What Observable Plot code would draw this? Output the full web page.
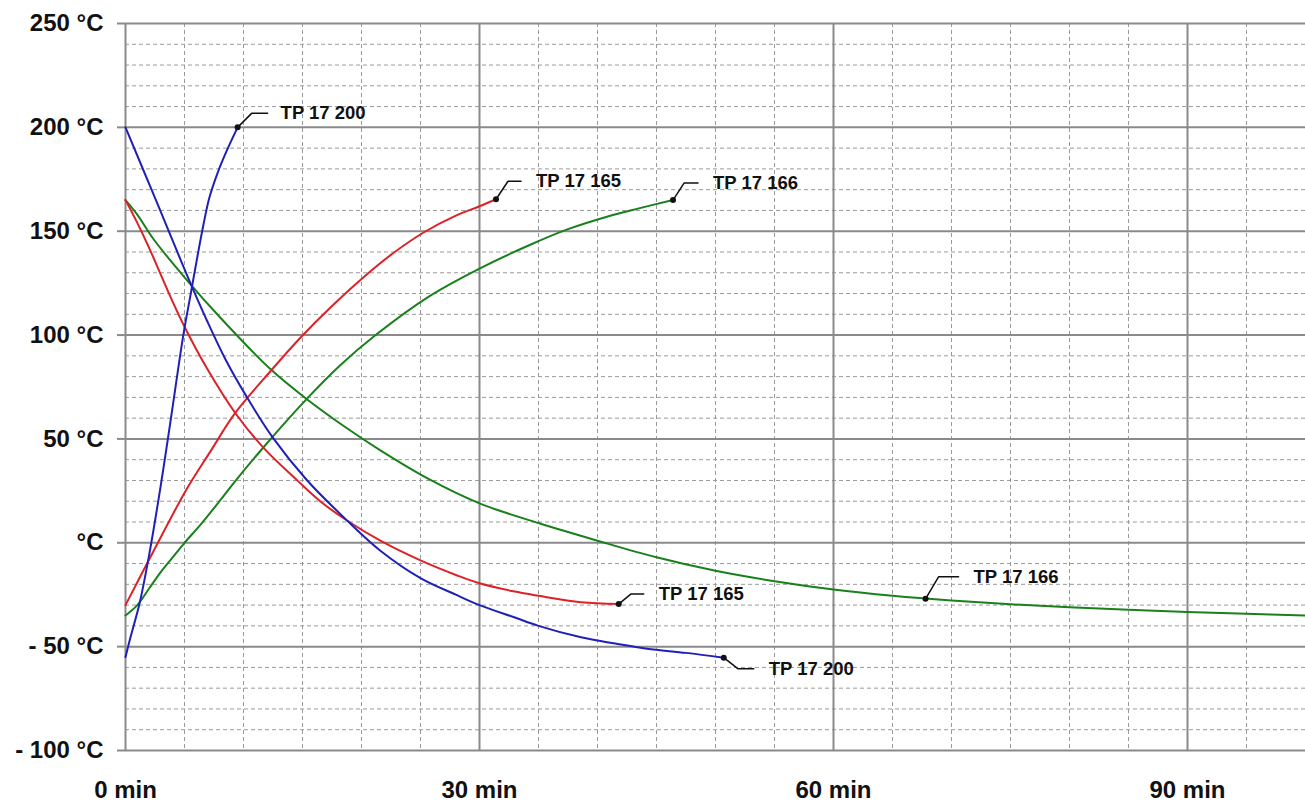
<!DOCTYPE html>
<html><head><meta charset="utf-8">
<script src="https://cdn.jsdelivr.net/npm/d3@7"></script>
<script src="https://cdn.jsdelivr.net/npm/@observablehq/plot@0.6"></script>
<style>
html,body{margin:0;padding:0;background:#fff;}
#chart{width:1305px;height:803px;overflow:hidden;}
svg{display:block;}
</style></head><body><div id="chart"></div>
<script>
// ---- data ----
const blueHeatTime = [0, 0.4, 1.2, 2, 3, 3.8, 4.9, 5.5, 6.1, 6.6, 7.1, 7.8, 8.6, 9.5];
const blueHeatTemp = [-55, -46, -29, -6, 28, 58, 100, 119, 138, 153, 166, 178, 189, 200];
const blueCoolTime = [0, 2.5, 5.5, 6.9, 8.5, 10.3, 12.5, 15.4, 18.8, 21.6, 25, 28, 30, 33, 35, 38.6, 41.5, 44.2, 47.5, 50.7];
const blueCoolTemp = [200, 166, 125, 107, 88, 70, 50.5, 30, 10.6, -3.8, -17, -25, -30, -36, -40, -45.5, -48.5, -51, -53, -55.3];
const redHeatTime = [0, 2.1, 5.2, 7.2, 9.3, 12.3, 14.8, 17.5, 20.2, 22.7, 25.3, 28, 30, 31.4];
const redHeatTemp = [-30, -7, 26, 44, 62.5, 82.7, 98.6, 114, 128, 139.5, 149.5, 157.5, 162, 165.4];
const redCoolTime = [0, 1, 2, 3, 4, 5, 6.9, 9.3, 11.7, 14.6, 16.5, 18.8, 21.6, 25, 28, 30, 33, 35, 38.6, 41.8];
const redCoolTemp = [165, 154, 142, 129, 116, 104, 84, 62.5, 45.7, 29.8, 20, 10.6, 1, -8.5, -15.5, -19.5, -23.5, -25.5, -28.6, -29.5];
const greenHeatTime = [0, 1, 2, 3, 4, 5, 6.4, 8.1, 9.2, 11.7, 15.4, 18.2, 21.2, 25.7, 30, 34.3, 37.5, 40.8, 43.5, 46.4];
const greenHeatTemp = [-35, -30, -22, -14, -7, 0, 9, 21, 29, 46, 69.5, 85.5, 100, 118.5, 132, 143.5, 151, 157, 161, 165];
const greenCoolTime = [0, 1, 2.4, 5.2, 8.1, 12.3, 15.4, 18.8, 21.6, 25.6, 30, 35, 40, 45, 50, 55, 60, 65, 70, 75, 80, 85, 90, 95, 100];
const greenCoolTemp = [165, 158, 146, 126.5, 108, 83.5, 69, 55, 44.5, 31, 19, 9.5, 1, -7, -13.5, -18.5, -22.5, -25.5, -27.8, -29.6, -31, -32.2, -33.3, -34.2, -35];

const labelText = ["TP 17 200", "TP 17 165", "TP 17 166", "TP 17 165", "TP 17 200", "TP 17 166"];
const labelTime = [9.5, 31.4, 46.4, 41.8, 50.7, 67.8];
const labelTemp = [200, 165.4, 165, -29.5, -55.3, -27];

const xTicks = [0, 30, 60, 90];
const xTickLabels = ["0 min", "30 min", "60 min", "90 min"];
const yTicks = [-100, -50, 0, 50, 100, 150, 200, 250];
const yTickLabels = ["- 100 °C", "- 50 °C", "°C", "50 °C", "100 °C", "150 °C", "200 °C", "250 °C"];

// ---- layout / style ----
const W = 1305, H = 803;
const M = {top: 23, right: 0, bottom: 53, left: 125};
const xDomain = [0, 100], yDomain = [-100, 250];
const kx = (W - M.left - M.right) / (xDomain[1] - xDomain[0]);
const ky = (H - M.top - M.bottom) / (yDomain[1] - yDomain[0]);
// leader offsets in pixels: [elbowDx, elbowDy, endDx, endDy, textDx]
const leaderOffsets = [[14, -14, 30, -14, 43], [12, -18, 25, -18, 40], [11, -17, 25, -17, 40],
                       [12, -10, 25, -10, 40], [14, 11, 30, 11, 45], [13, -22, 33, -22, 48]];
const BLUE = "#2020b8", RED = "#dc2228", GREEN = "#19801c";
const GRID = "#8a8a8a", MINOR = "#9a9a9a";

const toRows = (ts, vs) => ts.map((t, i) => ({t, v: vs[i]}));
const series = [
  {rows: toRows(greenCoolTime, greenCoolTemp), color: GREEN},
  {rows: toRows(greenHeatTime, greenHeatTemp), color: GREEN},
  {rows: toRows(redCoolTime, redCoolTemp), color: RED},
  {rows: toRows(redHeatTime, redHeatTemp), color: RED},
  {rows: toRows(blueCoolTime, blueCoolTemp), color: BLUE},
  {rows: toRows(blueHeatTime, blueHeatTemp), color: BLUE}
];

const minorX = d3.range(0, 101, 5).filter(d => d % 30 !== 0);
const minorY = d3.range(-100, 251, 10).filter(d => d % 50 !== 0);

const marks = [
  Plot.ruleX(minorX, {stroke: MINOR, strokeWidth: 1, strokeDasharray: "4,3"}),
  Plot.ruleY(minorY, {stroke: MINOR, strokeWidth: 1, strokeDasharray: "4,3"}),
  Plot.ruleX(xTicks, {stroke: GRID, strokeWidth: 2}),
  Plot.ruleY(yTicks, {stroke: GRID, strokeWidth: 2}),
  Plot.axisY(yTicks, {tickSize: 8, tickPadding: 14, stroke: GRID, strokeWidth: 2, fill: "#111",
    tickFormat: d => yTickLabels[yTicks.indexOf(d)], label: null}),
  Plot.axisX(xTicks, {tickSize: 0, tickPadding: 30, fill: "#111",
    tickFormat: d => xTickLabels[xTicks.indexOf(d)], label: null})
];
for (const s of series) {
  marks.push(Plot.line(s.rows, {x: "t", y: "v", stroke: s.color, strokeWidth: 2, curve: "catmull-rom"}));
}
labelText.forEach((txt, i) => {
  const [ex, ey, hx, hy, tx] = leaderOffsets[i];
  const t0 = labelTime[i], v0 = labelTemp[i];
  const path = [
    {t: t0, v: v0},
    {t: t0 + ex / kx, v: v0 - ey / ky},
    {t: t0 + hx / kx, v: v0 - hy / ky}
  ];
  marks.push(Plot.line(path, {x: "t", y: "v", stroke: "#111", strokeWidth: 1.5}));
  marks.push(Plot.dot([path[0]], {x: "t", y: "v", r: 3, fill: "#111", stroke: null}));
  marks.push(Plot.text([path[0]], {x: "t", y: "v", text: () => txt, dx: tx, dy: hy,
    textAnchor: "start", fontSize: 18.5, fontWeight: "bold", fill: "#111"}));
});

const chart = Plot.plot({
  width: W, height: H,
  marginTop: M.top, marginRight: M.right, marginBottom: M.bottom, marginLeft: M.left,
  x: {domain: xDomain, axis: null},
  y: {domain: yDomain, axis: null},
  style: {fontFamily: "'Liberation Sans', Arial, sans-serif", fontSize: "24px", fontWeight: "bold", background: "#fff", overflow: "visible"},
  marks
});
document.getElementById("chart").appendChild(chart);
</script>
</body></html>
